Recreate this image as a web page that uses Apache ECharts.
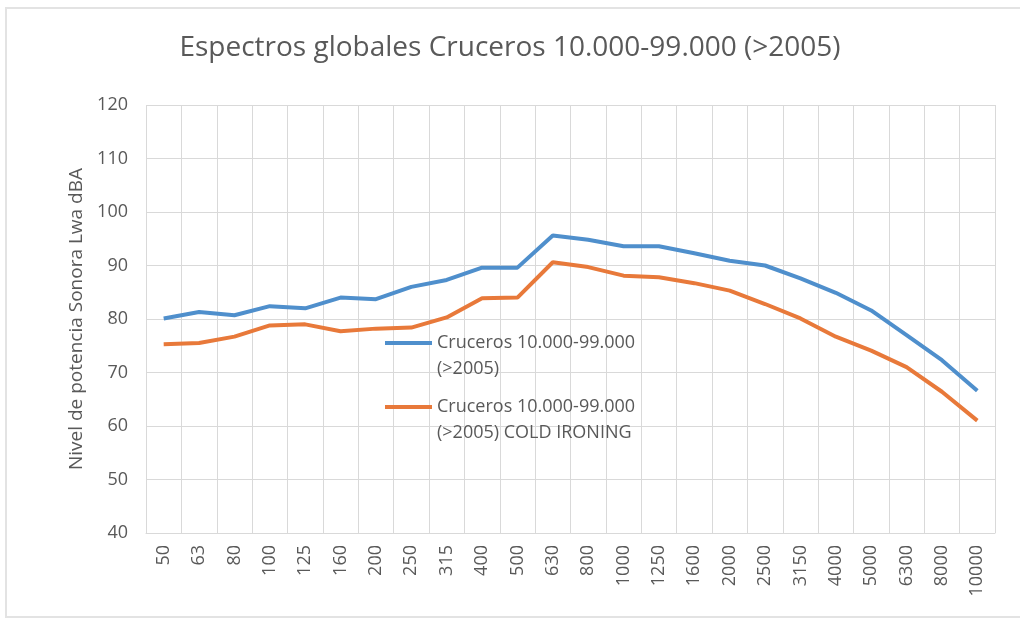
<!DOCTYPE html>
<html>
<head>
<meta charset="utf-8">
<title>Espectros globales Cruceros</title>
<script src="https://cdn.jsdelivr.net/npm/echarts@6/dist/echarts.min.js"></script>
<style>
  html, body { margin: 0; padding: 0; background: #fff; }
  #chart { width: 1020px; height: 625px; }
</style>
</head>
<body>
<div id="chart"></div>
<script>
// bandas de frecuencia (Hz)
const frecuencias = ['50', '63', '80', '100', '125', '160', '200', '250', '315', '400', '500', '630',
  '800', '1000', '1250', '1600', '2000', '2500', '3150', '4000', '5000', '6300', '8000', '10000'];
// nivel de potencia Lwa dBA
const cruceros = [80.1, 81.3, 80.7, 82.4, 82.0, 84.0, 83.7, 86.0, 87.3, 89.6, 89.6, 95.6,
  94.8, 93.6, 93.6, 92.3, 90.9, 90.0, 87.6, 84.9, 81.6, 77.0, 72.3, 66.6];
const crucerosCold = [75.3, 75.5, 76.7, 78.8, 79.0, 77.7, 78.2, 78.4, 80.3, 83.9, 84.0, 90.6,
  89.7, 88.1, 87.8, 86.7, 85.3, 82.8, 80.1, 76.7, 74.1, 71.0, 66.4, 61.0];

const nombre1 = 'Cruceros 10.000-99.000 (>2005)';
const nombre2 = 'Cruceros 10.000-99.000 (>2005) COLD IRONING';

const gris = '#595959';
const font = '"Open Sans", sans-serif';

const chart = echarts.init(document.getElementById('chart'));

// leyenda en dos lineas; la linea vacia de arriba deja el icono a la altura de la primera
function leyenda(nombre, top) {
  return {
    data: [nombre],
    left: 380,
    top: top,
    icon: 'rect',
    itemWidth: 47,
    itemHeight: 4,
    textStyle: { color: gris, fontFamily: font, fontSize: 18, lineHeight: 26 },
    formatter: function (n) {
      return '\n' + n.replace(' (>2005)', '\n(>2005)');
    }
  };
}

chart.setOption({
  animation: false,
  graphic: [{
    type: 'rect',
    shape: { x: 6, y: 8, width: 1030, height: 609 },
    style: { fill: 'none', stroke: '#e3e3e3', lineWidth: 2 },
    silent: true
  }],
  title: {
    text: 'Espectros globales Cruceros 10.000-99.000 (>2005)',
    left: 'center',
    top: 29,
    textStyle: { color: gris, fontFamily: font, fontSize: 28, fontWeight: 'normal' }
  },
  legend: [leyenda(nombre1, 299), leyenda(nombre2, 363)],
  grid: { left: 146, right: 25, top: 105, bottom: 92 },
  xAxis: {
    type: 'category',
    data: frecuencias,
    boundaryGap: true,
    axisLine: { lineStyle: { color: '#d9d9d9' } },
    axisTick: { show: false },
    axisLabel: { rotate: 90, margin: 12, interval: 0, color: gris, fontFamily: font, fontSize: 18 },
    splitLine: { show: true, interval: 0, lineStyle: { color: '#d9d9d9' } }
  },
  yAxis: {
    type: 'value',
    min: 40,
    max: 120,
    interval: 10,
    name: 'Nivel de potencia Sonora Lwa dBA',
    nameLocation: 'middle',
    nameGap: 58,
    nameTextStyle: { color: gris, fontFamily: font, fontSize: 19 },
    axisLine: { show: false },
    axisTick: { show: false },
    axisLabel: { margin: 18, color: gris, fontFamily: font, fontSize: 18 },
    splitLine: { lineStyle: { color: '#d9d9d9' } }
  },
  series: [
    {
      name: nombre1,
      type: 'line',
      data: cruceros,
      showSymbol: false,
      color: '#4f8fcc',
      lineStyle: { width: 4 }
    },
    {
      name: nombre2,
      type: 'line',
      data: crucerosCold,
      showSymbol: false,
      color: '#e8793a',
      lineStyle: { width: 4 }
    }
  ]
});
</script>
</body>
</html>
